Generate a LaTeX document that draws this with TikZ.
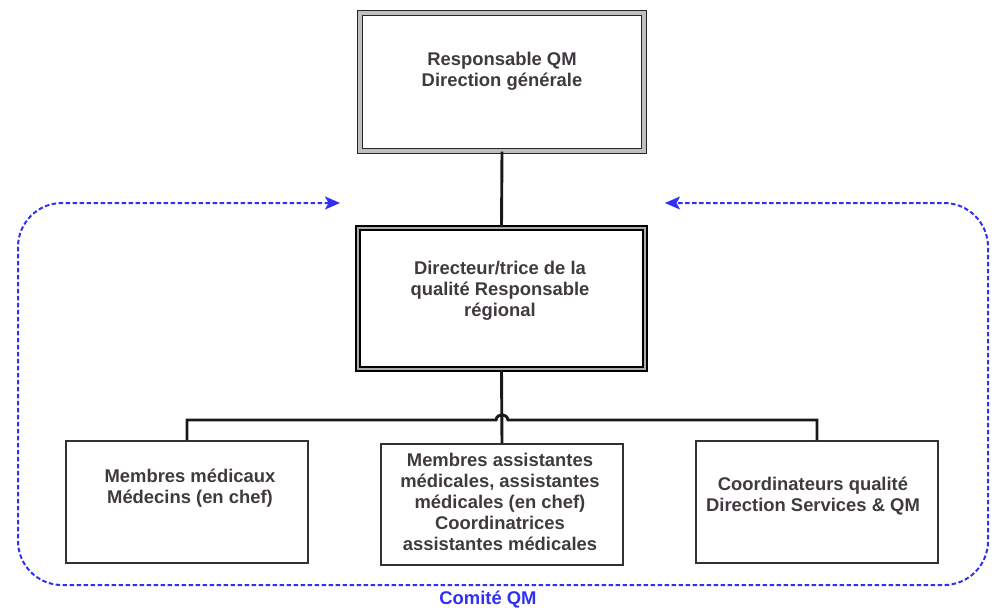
\documentclass[tikz,border=0pt]{standalone}
\usepackage{fontspec}
\setmainfont{Liberation Sans}
\usetikzlibrary{arrows.meta,calc}
\definecolor{txtgray}{RGB}{64,58,64}
\definecolor{loopblue}{RGB}{48,48,245}
\definecolor{boxgray}{RGB}{50,50,50}
\begin{document}
\begin{tikzpicture}[x=1pt,y=-1pt,
  lbl/.style={text=txtgray,font=\fontsize{18.4}{21}\selectfont\bfseries,align=center,inner sep=0pt},
  topbox/.style={draw=black!85,line width=1.4pt,double=gray!50,double distance=3.2pt,minimum width=284pt,minimum height=138pt,inner sep=0pt},
  midbox/.style={draw=black,line width=2pt,double=gray!65,double distance=2.2pt,minimum width=287pt,minimum height=141pt,inner sep=0pt},
  lowbox/.style={draw=boxgray,line width=1.6pt,minimum width=242pt,minimum height=122pt,inner sep=0pt},
  conn/.style={draw=black!90,line width=2.9pt},
  qmloop/.style={draw=loopblue,line width=2pt,dash pattern=on 4.5pt off 2.5pt,rounded corners=44pt,
    {Stealth[length=15pt,width=13pt,inset=3.5pt]}-{Stealth[length=15pt,width=13pt,inset=3.5pt]}}
]
\useasboundingbox (0,0) rectangle (994,608);
% boxes
\node[topbox] (top) at (502,82) {};
\node[midbox] (mid) at (501.5,298.5) {};
\node[lowbox] (bl) at (187,502) {};
\node[lowbox,minimum height=121pt] (bc) at (502,504.5) {};
\node[lowbox] (br) at (817,502) {};
% texts
\node[lbl] (ttop) at (502,71.5) {Responsable QM\\Direction générale};
\node[lbl] (tmid) at (500,291) {Directeur/trice de la\\qualité Responsable\\régional};
\node[lbl] (tbl) at (190,488) {Membres médicaux\\Médecins (en chef)};
\node[lbl] (tbc) at (500,502) {Membres assistantes\\médicales, assistantes\\médicales (en chef)\\Coordinatrices\\assistantes médicales};
\node[lbl] (tbr) at (813,496) {Coordinateurs qualité\\Direction Services \& QM};
\node[lbl,text=loopblue] (tqm) at (488,600) {Comité QM};
% connectors
\coordinate (hopL) at (496,420);
\coordinate (hopR) at (508,420);
\draw[conn] (top.south) -- (mid.north);
\draw[conn] (mid.south) -- (bc.north);
\draw[conn] (bl.north) |- (hopL) .. controls (497,413) and (507,413) .. (hopR) -| (br.north);
% committee loop
\coordinate (la) at (340,203);
\coordinate (ra) at (665,203);
\draw[qmloop] (la) -- (18,203) -- (18,585) -- (988,585) -- (988,203) -- (ra);
\end{tikzpicture}
\end{document}
